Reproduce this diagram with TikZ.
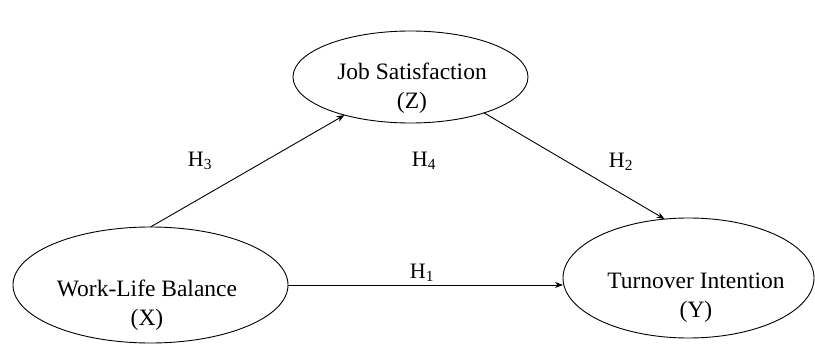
\documentclass[tikz,border=0pt]{standalone}
\usepackage{fontspec}
\setmainfont{Liberation Serif}
\usetikzlibrary{shapes.geometric,arrows.meta}
\begin{document}
\begin{tikzpicture}[x=1pt,y=-1pt,
  ell/.style={ellipse,draw,line width=0.9pt,inner sep=0pt,outer sep=0pt},
  lbl/.style={align=center,font=\fontsize{23.5}{29}\selectfont,inner sep=0pt},
  hyp/.style={font=\fontsize{22}{26}\selectfont,inner sep=0pt},
  arr/.style={line width=0.9pt,-{Stealth[length=8pt,width=6pt]}}]
\useasboundingbox (0,0) rectangle (815,345);
\node[ell,minimum width=235pt,minimum height=92pt] (js) at (410.5,77) {};
\node[ell,minimum width=275pt,minimum height=116pt] (wlb) at (150.5,285) {};
\node[ell,minimum width=251pt,minimum height=120pt] (ti) at (688.5,278) {};
\node[lbl] (jst) at (412,88) {Job Satisfaction\\(Z)};
\node[lbl] (wlbt) at (147,305) {Work-Life Balance\\(X)};
\node[lbl] (tit) at (696,298) {Turnover Intention\\(Y)};
\node[hyp] (h3) at (200,161) {H\textsubscript{3}};
\node[hyp] (h4) at (424,161) {H\textsubscript{4}};
\node[hyp] (h2) at (621,162) {H\textsubscript{2}};
\node[hyp] (h1) at (422,273) {H\textsubscript{1}};
\draw[arr] (wlb.north) -- (js.210);
\draw[arr] (js.-26) -- (ti.112);
\draw[arr] (wlb.east) -- (wlb.east -| ti.west);
\end{tikzpicture}
\end{document}
